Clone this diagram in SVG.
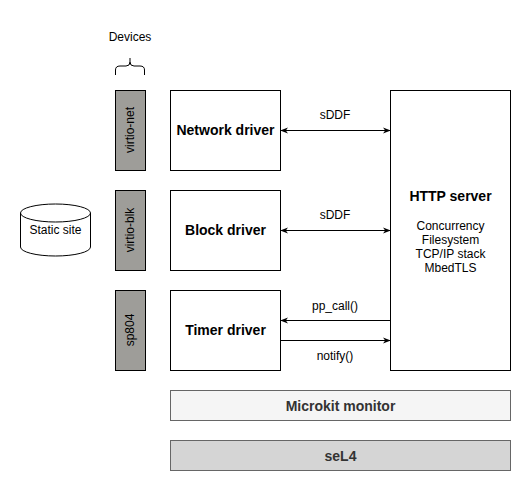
<svg xmlns="http://www.w3.org/2000/svg" width="531" height="491" viewBox="0 0 531 491">
<style>
text{font-family:"Liberation Sans",Arial,Helvetica,sans-serif;text-anchor:middle;fill:#000}
.b{font-weight:bold;font-size:14px}
.s{font-size:12px}
.box{fill:#fff;stroke:#000;stroke-width:1}
.dev{fill:#9e9d99;stroke:#000;stroke-width:1}
.ln{fill:none;stroke:#000;stroke-width:1}
.bar{stroke:#666;stroke-width:1}
</style>
<defs>
<marker id="ah" viewBox="0 0 10 10" refX="9" refY="5" markerWidth="8" markerHeight="8" markerUnits="userSpaceOnUse" orient="auto-start-reverse">
<path d="M0,1 L10,5 L0,9 L3,5 Z" fill="#000"/>
</marker>
</defs>
<rect width="531" height="491" fill="#fff"/>
<g id="devices-label">
<text class="s" x="130" y="41">Devices</text>
<path class="ln" d="M115.5,75 L115.5,70 Q115.5,66 120,66 L126,66 Q130,66 130,62 L130,58 M130,62 Q130,66 134,66 L140,66 Q144.5,66 144.5,70 L144.5,75"/>
</g>
<g id="virtio-net"><rect class="dev" x="115.5" y="90.5" width="30" height="80"/><text class="s" transform="translate(134,130) rotate(-90)">virtio-net</text></g>
<g id="virtio-blk"><rect class="dev" x="115.5" y="190.5" width="30" height="80"/><text class="s" transform="translate(134,230) rotate(-90)">virtio-blk</text></g>
<g id="sp804"><rect class="dev" x="115.5" y="290.5" width="30" height="80"/><text class="s" transform="translate(134,330) rotate(-90)">sp804</text></g>
<g id="static-site">
<path class="box" d="M20.5,213 A35,9 0 0 1 90.5,213 L90.5,247 A35,9 0 0 1 20.5,247 Z"/>
<path class="ln" d="M20.5,213 A35,9 0 0 0 90.5,213"/>
<text class="s" x="55.5" y="234">Static site</text>
</g>
<g id="network-driver"><rect class="box" x="170.5" y="90.5" width="110" height="80"/><text class="b" x="225.5" y="135">Network driver</text></g>
<g id="block-driver"><rect class="box" x="170.5" y="190.5" width="110" height="80"/><text class="b" x="225.5" y="235">Block driver</text></g>
<g id="timer-driver"><rect class="box" x="170.5" y="290.5" width="110" height="80"/><text class="b" x="225.5" y="335">Timer driver</text></g>
<g id="http-server">
<rect class="box" x="390.5" y="90.5" width="120" height="280"/>
<text class="b" x="450.5" y="201">HTTP server</text>
<text class="s" x="450.5" y="230">Concurrency</text>
<text class="s" x="450.5" y="244">Filesystem</text>
<text class="s" x="450.5" y="258">TCP/IP stack</text>
<text class="s" x="450.5" y="272">MbedTLS</text>
</g>
<g id="microkit-monitor"><rect class="bar" x="170.5" y="390.5" width="340" height="30" fill="#f5f5f5"/><text class="b" x="340.5" y="411" style="fill:#333">Microkit monitor</text></g>
<g id="sel4"><rect class="bar" x="170.5" y="440.5" width="340" height="30" fill="#d5d5d5"/><text class="b" x="340.5" y="461" style="fill:#333">seL4</text></g>
<g id="connectors">
<line class="ln" x1="281" y1="130.5" x2="390" y2="130.5" marker-start="url(#ah)" marker-end="url(#ah)"/>
<text class="s" x="335" y="119">sDDF</text>
<line class="ln" x1="281" y1="230.5" x2="390" y2="230.5" marker-start="url(#ah)" marker-end="url(#ah)"/>
<text class="s" x="335" y="219">sDDF</text>
<line class="ln" x1="390" y1="320.5" x2="281" y2="320.5" marker-end="url(#ah)"/>
<text class="s" x="335" y="310">pp_call()</text>
<line class="ln" x1="281" y1="340.5" x2="390" y2="340.5" marker-end="url(#ah)"/>
<text class="s" x="335" y="360">notify()</text>
</g>
</svg>
